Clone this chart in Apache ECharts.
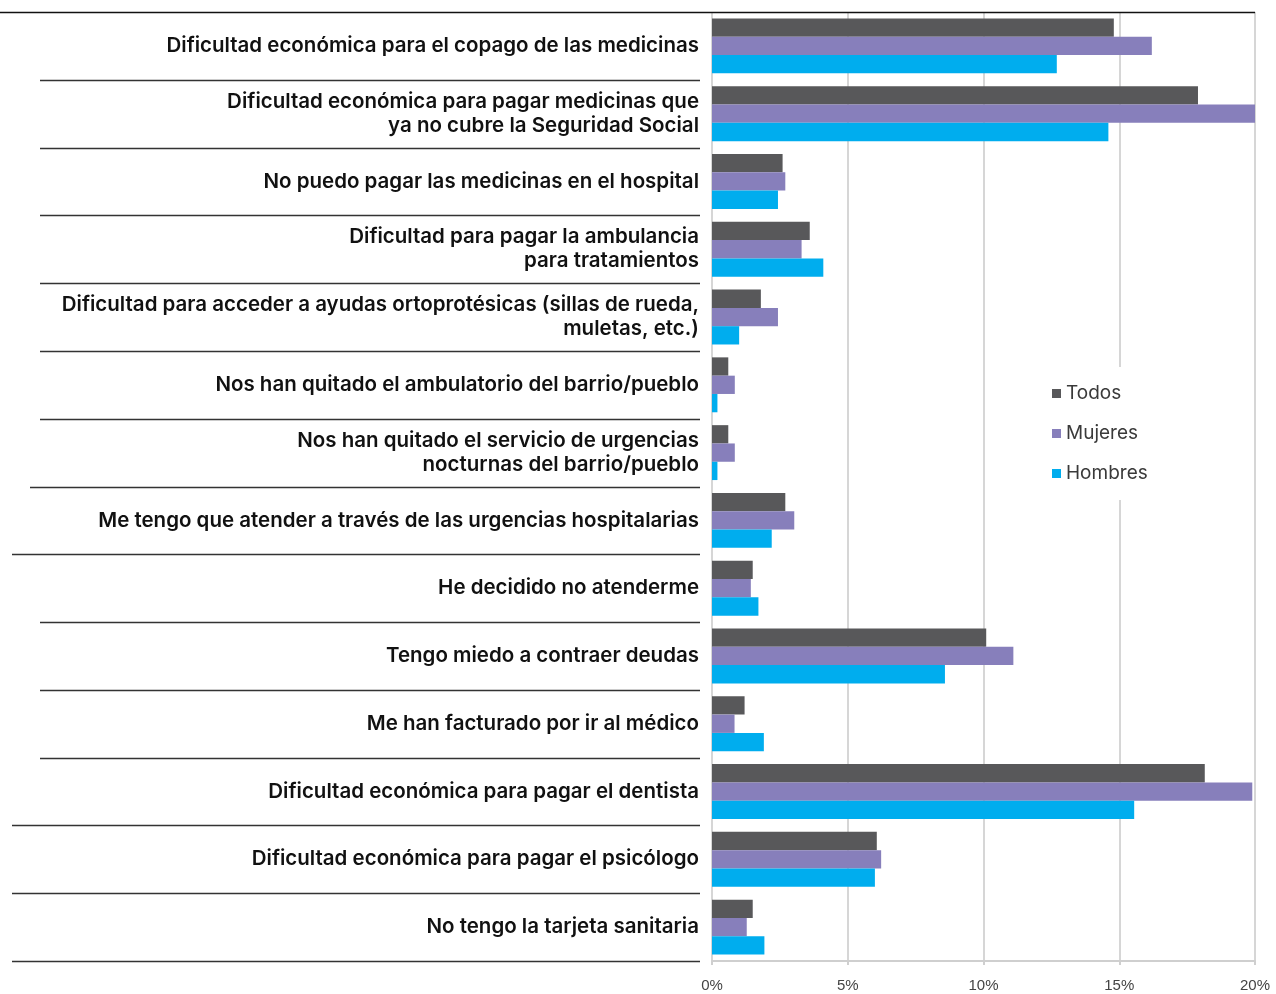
<!DOCTYPE html>
<html>
<head>
<meta charset="utf-8">
<script src="https://cdn.jsdelivr.net/npm/echarts@6/dist/echarts.min.js"></script>
<style>
html,body{margin:0;padding:0;background:#fff;}
#chart{width:1276px;height:994px;}
</style>
</head>
<body>
<div id="chart"></div>
<script>
var categories = [
  "Dificultad económica para el copago de las medicinas",
  "Dificultad económica para pagar medicinas que\nya no cubre la Seguridad Social",
  "No puedo pagar las medicinas en el hospital",
  "Dificultad para pagar la ambulancia\npara tratamientos",
  "Dificultad para acceder a ayudas ortoprotésicas (sillas de rueda,\nmuletas, etc.)",
  "Nos han quitado el ambulatorio del barrio/pueblo",
  "Nos han quitado el servicio de urgencias\nnocturnas del barrio/pueblo",
  "Me tengo que atender a través de las urgencias hospitalarias",
  "He decidido no atenderme",
  "Tengo miedo a contraer deudas",
  "Me han facturado por ir al médico",
  "Dificultad económica para pagar el dentista",
  "Dificultad económica para pagar el psicólogo",
  "No tengo la tarjeta sanitaria"
];
var seriesNames = ["Todos", "Mujeres", "Hombres"];
var todos   = [14.8, 17.9, 2.6, 3.6, 1.8, 0.6, 0.6, 2.7, 1.5, 10.1, 1.2, 18.15, 6.07, 1.5];
var mujeres = [16.2, 20.0, 2.7, 3.3, 2.43, 0.84, 0.84, 3.03, 1.43, 11.1, 0.83, 19.9, 6.23, 1.28];
var hombres = [12.7, 14.6, 2.43, 4.1, 1.0, 0.2, 0.2, 2.2, 1.71, 8.58, 1.91, 15.55, 6.0, 1.93];
var xTicks = [0, 5, 10, 15, 20];

var W = 1276, H = 994;
var gridLeft = 712, gridRight = 21, gridTop = 12, gridBottom = 33;
var sepStarts = [0, 40, 40, 40, 40, 40, 40, 30, 12, 40, 40, 40, 12, 12, 12];
var sepEnd = 700;

var chart = echarts.init(document.getElementById('chart'), null, {renderer: 'canvas'});

var plotBottom = H - gridBottom;
var band = (plotBottom - gridTop) / categories.length;
var graphics = [];
for (var i = 0; i <= categories.length; i++) {
  var y = Math.round(gridTop + i * band) + 0.5;
  var x2 = (i === 0) ? (W - gridRight) : sepEnd;
  graphics.push({
    type: 'line',
    shape: {x1: sepStarts[i], y1: y, x2: x2, y2: y},
    style: {stroke: i === 0 ? '#111' : '#333', lineWidth: 1.3},
    z: 10, silent: true
  });
}

var colors = ['#58585a', '#877fbb', '#00adee'];
var data = [todos, mujeres, hombres];

chart.setOption({
  animation: false,
  backgroundColor: '#fff',
  grid: {left: gridLeft, right: gridRight, top: gridTop, bottom: gridBottom, containLabel: false},
  legend: {
    orient: 'vertical',
    left: 1044, top: 367,
    data: seriesNames,
    icon: 'rect',
    itemWidth: 9, itemHeight: 9,
    itemGap: 21,
    padding: [17, 10, 17, 8],
    backgroundColor: '#fff',
    textStyle: {fontSize: 19, color: '#3a3a3a', fontFamily: 'Inter, "Liberation Sans", sans-serif'},
    z: 20
  },
  xAxis: {
    type: 'value',
    min: xTicks[0], max: xTicks[xTicks.length - 1], interval: 5,
    axisLine: {show: true, lineStyle: {color: '#cfcfcf', width: 2}},
    axisTick: {show: true, length: 4, lineStyle: {color: '#cfcfcf', width: 2}},
    splitLine: {show: true, lineStyle: {color: '#d6d6d6', width: 2}},
    axisLabel: {
      formatter: '{value}%', fontSize: 15, color: '#444', margin: 17,
      fontFamily: '"Liberation Sans", Arial, sans-serif'
    }
  },
  yAxis: {
    type: 'category',
    inverse: true,
    data: categories,
    axisLine: {show: false},
    axisTick: {show: false},
    axisLabel: {
      fontSize: 20.5, color: '#111', fontWeight: 600, lineHeight: 24,
      fontFamily: 'Inter, "Liberation Sans", sans-serif',
      margin: 13, align: 'right'
    }
  },
  series: seriesNames.map(function (n, k) {
    return {
      name: n, type: 'bar', data: data[k],
      barGap: '0%', barCategoryGap: '19%',
      itemStyle: {color: colors[k]},
      z: 2
    };
  }),
  graphic: graphics
});
</script>
</body>
</html>
